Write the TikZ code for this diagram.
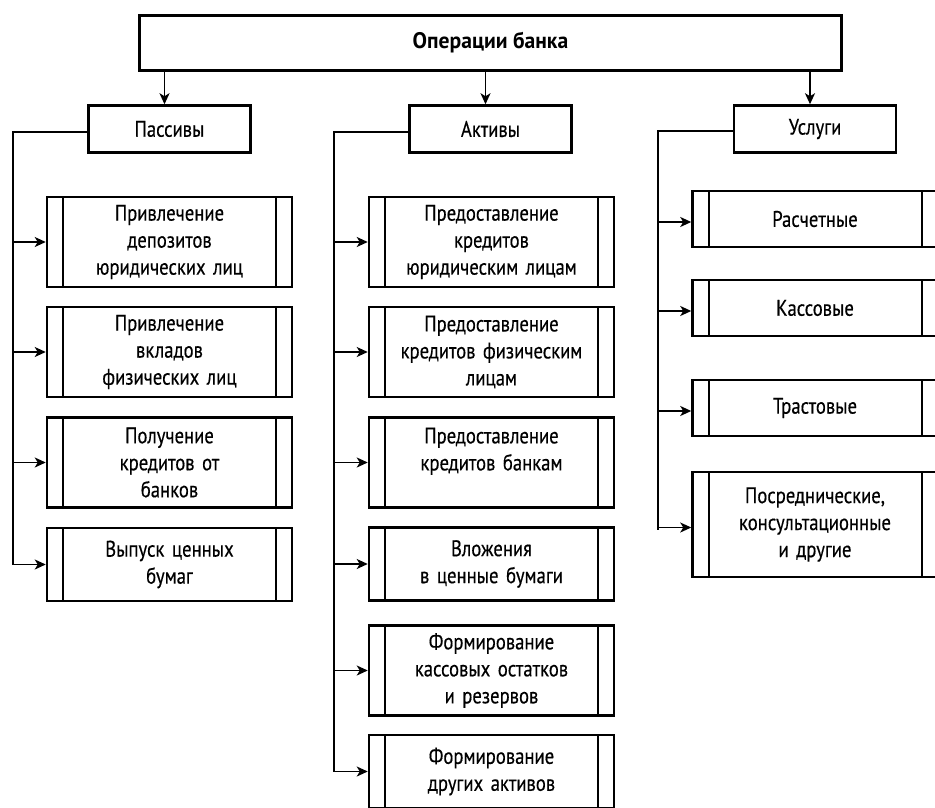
\documentclass[tikz,border=0pt]{standalone}
\usepackage{fontspec}
\setmainfont{PT Sans}[FakeStretch=0.83, FakeBold=0.4, WordSpace=0.8]
\newfontfamily\headfont{PT Sans}[FakeStretch=0.96]
\usetikzlibrary{arrows.meta, positioning, calc}

\begin{document}
\begin{tikzpicture}[x=1pt, y=-1pt,
    every node/.style={font=\fontsize{22.5}{27}\selectfont},
    headbox/.style={draw, line width=3pt, minimum width=702pt, minimum height=55pt,
          font=\fontsize{22.5}{27}\selectfont\headfont\bfseries},
    groupbox/.style={draw, line width=2.5pt, minimum width=162pt, minimum height=47pt},
    opbox/.style={draw, line width=2.5pt, minimum width=245pt, inner sep=0pt,
          text width=210pt, align=center,
          path picture={\draw[line width=2pt]
            ([xshift=16pt]path picture bounding box.south west) --
            ([xshift=16pt]path picture bounding box.north west)
            ([xshift=-16pt]path picture bounding box.south east) --
            ([xshift=-16pt]path picture bounding box.north east);}},
    link/.style={line width=1.7pt},
    feed/.style={line width=1.7pt, -{Stealth[length=11pt, width=10pt, inset=3pt]}}]

  \clip (0,0) rectangle (935,808);
  \useasboundingbox (0,0) rectangle (935,808);

  % Top box
  \node[headbox] (bank) at (490.5,43) {Операции банка};

  % Groups
  \node[groupbox] (pas) at (169.5,129) {Пассивы};
  \node[groupbox] (akt) at (490.5,129) {Активы};
  \node[groupbox] (usl) at (815,129) {Услуги};

  \foreach \g in {pas, akt, usl}
    \draw[feed] (bank.south -| {$(\g.north)+(-5,0)$}) -- ([xshift=-5pt]\g.north);

  % Passive operations
  \node[opbox, minimum height=90pt] (p1) at (169.5,242) {Привлечение\\депозитов\\юридических лиц};
  \node[opbox, minimum height=90pt] (p2) at (169.5,352) {Привлечение\\вкладов\\физических лиц};
  \node[opbox, minimum height=90pt] (p3) at (169.5,462.5) {Получение\\кредитов от\\банков};
  \node[opbox, minimum height=73pt] (p4) at (169.5,564.5) {Выпуск ценных\\бумаг};

  % Active operations
  \node[opbox, minimum height=90pt] (a1) at (491.5,242) {Предоставление\\кредитов\\юридическим лицам};
  \node[opbox, minimum height=90pt] (a2) at (491.5,352) {Предоставление\\кредитов физическим\\лицам};
  \node[opbox, minimum height=90pt] (a3) at (491.5,462.5) {Предоставление\\кредитов банкам\\\mbox{}};
  \node[opbox, minimum height=73pt] (a4) at (491.5,564) {Вложения\\в ценные бумаги};
  \node[opbox, minimum height=90pt] (a5) at (491.5,670.5) {Формирование\\кассовых остатков\\и резервов};
  \node[opbox, minimum height=73pt] (a6) at (491.5,771.5) {Формирование\\других активов};

  % Services
  \node[opbox, minimum height=56pt] (u1) at (815,219) {Расчетные};
  \node[opbox, minimum height=56pt] (u2) at (815,308) {Кассовые};
  \node[opbox, minimum height=56pt] (u3) at (815,408) {Трастовые};
  \node[opbox, minimum height=105pt] (u4) at (815,524.5) {Посреднические,\\консультационные\\и другие};

  % Trunks
  \coordinate (pastrunk) at (13,0);
  \coordinate (akttrunk) at (334,0);
  \coordinate (usltrunk) at (658,0);

  \draw[link] ([yshift=-3pt]pas.west) -| (pastrunk |- p4.west);
  \draw[link] ([yshift=-3pt]akt.west) -| (akttrunk |- a6.west);
  \draw[link] ([yshift=-2pt]usl.west) -| ([yshift=-5pt]usltrunk |- u4.west);

  \foreach \b in {p1, p2, p3, p4}
    \draw[feed] (pastrunk |- \b.west) -- (\b.west);
  \foreach \b in {a1, a2, a3, a4, a5, a6}
    \draw[feed] (akttrunk |- \b.west) -- (\b.west);
  \foreach \b in {u1, u2, u3, u4}
    \draw[feed] ([yshift=-3pt]usltrunk |- \b.west) -- ([yshift=-3pt]\b.west);

\end{tikzpicture}
\end{document}
